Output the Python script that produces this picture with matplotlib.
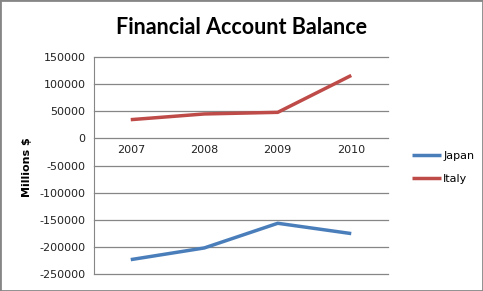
import matplotlib.pyplot as plt
from matplotlib.patches import Rectangle

# data
years = ['2007', '2008', '2009', '2010']
japan = [-223500, -202000, -156500, -175500]
italy = [34500, 45000, 48000, 116000]
yticks = list(range(-250000, 150001, 50000))

W, H = 483, 291
fig = plt.figure(figsize=(W / 100, H / 100), dpi=100)
fig.patch.set_facecolor('white')

# plot area in pixel coords (left 94, right 388, top 57, bottom 274)
ax = fig.add_axes([94 / W, 1 - 274 / H, (388 - 94) / W, (274 - 57) / H])
x = range(len(years))
ax.plot(x, japan, color='#4a7ebb', lw=2.5, label='Japan', solid_capstyle='butt')
ax.plot(x, italy, color='#be4b48', lw=2.5, label='Italy', solid_capstyle='butt')

ax.set_xlim(-0.5, len(years) - 0.5)
ax.set_ylim(-250000, 150000)
ax.set_yticks(yticks)
ax.set_yticklabels([str(v) for v in yticks], fontsize=8, color='#222222')
ax.grid(axis='y', color='#868686', lw=0.9)
for gl in ax.get_ygridlines():
    gl.set_clip_on(False)
ax.set_axisbelow(True)
for s in ['top', 'right', 'bottom']:
    ax.spines[s].set_visible(False)
ax.spines['left'].set_color('#868686')
ax.tick_params(axis='y', length=0, pad=6)
ax.set_xticks([])

# category labels sit just under the zero line
for i, yr in enumerate(years):
    ax.text(i, -12000, yr, ha='center', va='top', fontsize=8, color='#222222')

fig.text(27 / W, 1 - 167 / H, 'Millions $', rotation=90, ha='center', va='center',
         fontsize=8, fontweight='bold')
fig.text(241 / W, 1 - 28 / H, 'Financial Account Balance', ha='center', va='center',
         fontsize=15.5, family='Lato', fontweight='bold')

leg = fig.legend(loc='upper left', bbox_to_anchor=(402 / W, 1 - 141 / H), frameon=False,
                 fontsize=8, handlelength=2.6, handletextpad=0.2, labelspacing=1.2)

fig.add_artist(Rectangle((0, 0), 1, 1, transform=fig.transFigure, fill=False,
                         ec='#868686', lw=2))

fig.savefig('out.png', dpi=100)
